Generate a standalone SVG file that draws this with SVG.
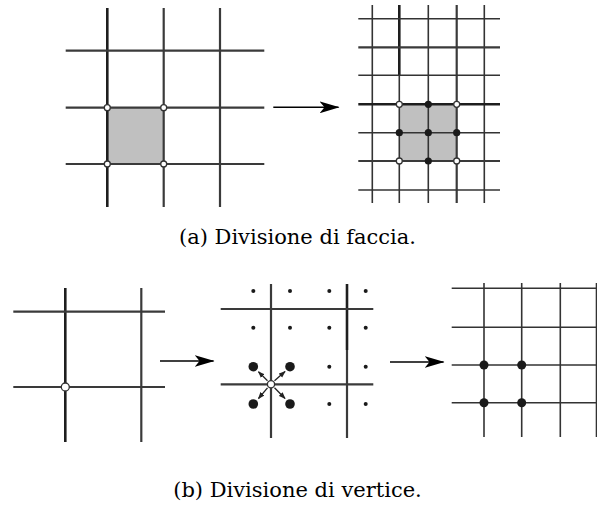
<svg xmlns="http://www.w3.org/2000/svg" width="597" height="512" viewBox="0 0 597 512">
<style>
.g{stroke:#3a3a3a;stroke-width:2.2;fill:none}
.gd{stroke:#1e1e1e;stroke-width:2.6;fill:none}
.gt{stroke:#333;stroke-width:1.6;fill:none}
.open{fill:#fff;stroke:#333;stroke-width:1.3}
.dot{fill:#1a1a1a}
.face{fill:#c0c0c0}
.arr{stroke:#000;stroke-width:1.6;fill:none}
.cap{font-family:"DejaVu Serif","Liberation Serif",serif;font-size:21px;fill:#000}
</style>
<defs>
<marker id="ah" viewBox="0 0 20 12" refX="19" refY="6" markerWidth="20" markerHeight="12" markerUnits="userSpaceOnUse" orient="auto">
<path d="M0,0 L20,6 L0,12 L5,6 Z" fill="#000"/>
</marker>
<marker id="sh" viewBox="0 0 8 6" refX="7" refY="3" markerWidth="7" markerHeight="6" markerUnits="userSpaceOnUse" orient="auto">
<path d="M0,0 L8,3 L0,6 Z" fill="#222"/>
</marker>
</defs>

<g id="face-before">
<rect class="face" x="107.5" y="107.7" width="56.2" height="56.3"/>
<line class="gd" x1="107.3" y1="8" x2="107.3" y2="207"/>
<line class="g" x1="163.7" y1="8" x2="163.7" y2="207"/>
<line class="g" x1="220" y1="8" x2="220" y2="207"/>
<line class="g" x1="65.7" y1="50.7" x2="264.3" y2="50.7"/>
<line class="g" x1="65.7" y1="107.7" x2="264.3" y2="107.7"/>
<line class="g" x1="65.7" y1="164" x2="264.3" y2="164"/>
<circle class="open" cx="107.3" cy="107.7" r="3"/>
<circle class="open" cx="163.7" cy="107.7" r="3"/>
<circle class="open" cx="107.3" cy="164" r="3"/>
<circle class="open" cx="163.7" cy="164" r="3"/>
</g>

<g id="face-after">
<rect class="face" x="399.3" y="104.3" width="57.4" height="56.7"/>
<line class="gt" x1="372.3" y1="5" x2="372.3" y2="203"/>
<line class="gt" x1="399.3" y1="75" x2="399.3" y2="203"/>
<line class="gd" x1="399.3" y1="5" x2="399.3" y2="75"/>
<line class="gt" x1="428.3" y1="5" x2="428.3" y2="203"/>
<line class="g" x1="456.7" y1="5" x2="456.7" y2="203"/>
<line class="gt" x1="484.3" y1="5" x2="484.3" y2="203"/>
<line class="gt" x1="358.3" y1="18.7" x2="500" y2="18.7"/>
<line class="g" x1="358.3" y1="47.3" x2="500" y2="47.3"/>
<line class="gt" x1="358.3" y1="75.3" x2="500" y2="75.3"/>
<line class="gd" x1="358.3" y1="104.3" x2="500" y2="104.3"/>
<line class="gt" x1="358.3" y1="132.7" x2="500" y2="132.7"/>
<line class="g" x1="358.3" y1="161" x2="500" y2="161"/>
<line class="gt" x1="358.3" y1="190" x2="500" y2="190"/>
<circle class="open" cx="399.3" cy="104.3" r="3"/>
<circle class="open" cx="456.7" cy="104.3" r="3"/>
<circle class="open" cx="399.3" cy="161" r="3"/>
<circle class="open" cx="456.7" cy="161" r="3"/>
<circle class="dot" cx="428.3" cy="104.3" r="3.6"/>
<circle class="dot" cx="399.3" cy="132.7" r="3.6"/>
<circle class="dot" cx="428.3" cy="132.7" r="3.6"/>
<circle class="dot" cx="456.7" cy="132.7" r="3.6"/>
<circle class="dot" cx="428.3" cy="161" r="3.6"/>
</g>

<g id="vertex-before">
<line class="gd" x1="65.3" y1="288" x2="65.3" y2="442"/>
<line class="g" x1="141.3" y1="288" x2="141.3" y2="442"/>
<line class="g" x1="13.3" y1="311.7" x2="165" y2="311.7"/>
<line class="g" x1="13.3" y1="387" x2="165" y2="387"/>
<circle class="open" cx="65.3" cy="387" r="4"/>
</g>

<g id="vertex-mid">
<line class="g" x1="271" y1="284" x2="271" y2="438"/>
<line class="g" x1="347" y1="350" x2="347" y2="438"/>
<line class="gd" x1="347" y1="284" x2="347" y2="350"/>
<line class="g" x1="220.7" y1="309" x2="373.3" y2="309"/>
<line class="g" x1="220.7" y1="384.3" x2="373.3" y2="384.3"/>
<circle class="dot" cx="253.3" cy="291" r="2"/>
<circle class="dot" cx="290" cy="291" r="2"/>
<circle class="dot" cx="329.3" cy="291" r="2"/>
<circle class="dot" cx="365.7" cy="291" r="2"/>
<circle class="dot" cx="253.3" cy="327.7" r="2"/>
<circle class="dot" cx="290" cy="327.7" r="2"/>
<circle class="dot" cx="329.3" cy="327.7" r="2"/>
<circle class="dot" cx="365.7" cy="327.7" r="2"/>
<circle class="dot" cx="329.3" cy="366.7" r="2"/>
<circle class="dot" cx="365.7" cy="366.7" r="2"/>
<circle class="dot" cx="329.3" cy="404" r="2"/>
<circle class="dot" cx="365.7" cy="404" r="2"/>
<circle class="dot" cx="253.3" cy="366.7" r="4.8"/>
<circle class="dot" cx="290" cy="366.7" r="4.8"/>
<circle class="dot" cx="253.3" cy="404" r="4.8"/>
<circle class="dot" cx="290" cy="404" r="4.8"/>
<g stroke="#222" stroke-width="1.3" fill="none">
<line x1="267.5" y1="380.8" x2="258.5" y2="371.8" marker-end="url(#sh)"/>
<line x1="274.5" y1="380.8" x2="285" y2="371.5" marker-end="url(#sh)"/>
<line x1="267.5" y1="387.8" x2="258.5" y2="398.5" marker-end="url(#sh)"/>
<line x1="274.5" y1="387.8" x2="285" y2="398.5" marker-end="url(#sh)"/>
</g>
<circle class="open" cx="271" cy="384.3" r="3.6"/>
</g>

<g id="vertex-after">
<line class="gt" x1="484" y1="283" x2="484" y2="437"/>
<line class="gt" x1="521.7" y1="283" x2="521.7" y2="437"/>
<line class="gt" x1="560.3" y1="283" x2="560.3" y2="437"/>
<line class="gt" x1="596.5" y1="283" x2="596.5" y2="437"/>
<line class="gt" x1="451.7" y1="288.3" x2="597" y2="288.3"/>
<line class="gt" x1="451.7" y1="327.3" x2="597" y2="327.3"/>
<line class="gt" x1="451.7" y1="365" x2="597" y2="365"/>
<line class="gt" x1="451.7" y1="402.7" x2="597" y2="402.7"/>
<circle class="dot" cx="484" cy="365" r="4.5"/>
<circle class="dot" cx="521.7" cy="365" r="4.5"/>
<circle class="dot" cx="484" cy="402.7" r="4.5"/>
<circle class="dot" cx="521.7" cy="402.7" r="4.5"/>
</g>

<g id="connectors">
<line class="arr" x1="273.3" y1="107.3" x2="338.5" y2="107.3" marker-end="url(#ah)"/>
<line class="arr" x1="160" y1="361" x2="213.5" y2="361" marker-end="url(#ah)"/>
<line class="arr" x1="390" y1="362" x2="443.5" y2="362" marker-end="url(#ah)"/>
</g>

<g id="captions">
<text class="cap" x="297.5" y="244" text-anchor="middle">(a) Divisione di faccia.</text>
<text class="cap" x="297.5" y="497" text-anchor="middle">(b) Divisione di vertice.</text>
</g>
</svg>
